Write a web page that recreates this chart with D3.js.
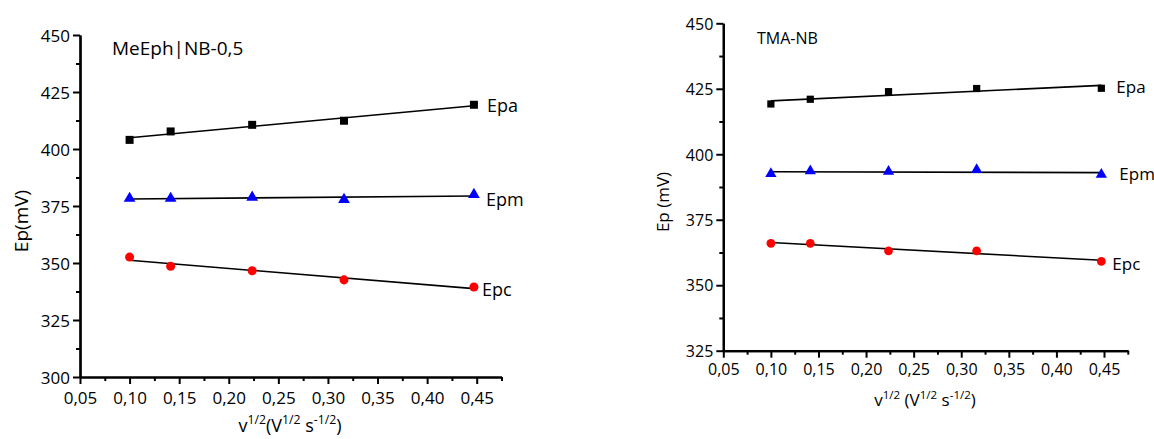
<!DOCTYPE html>
<html><head><meta charset="utf-8">
<script src="https://cdn.jsdelivr.net/npm/d3@7"></script>
<style>
body{margin:0;background:#fff;}
svg{display:block;font-family:"Open Sans",sans-serif;}
</style></head>
<body><svg id="c" width="1154" height="439"></svg>
<script>
// scan rates v^1/2 (V^1/2 s^-1/2)
const sqrtV = [0.1, 0.1414, 0.2236, 0.3162, 0.4472];
// MeEph|NB-0,5 panel (mV)
const leftEpa = [404.0, 407.7, 410.6, 412.4, 419.4];
const leftEpm = [378.3, 378.3, 378.8, 377.8, 380.0];
const leftEpc = [352.6, 348.6, 346.6, 342.6, 339.5];
// TMA-NB panel (mV)
const rightEpa = [419.2, 421.0, 423.9, 425.1, 425.2];
const rightEpm = [392.6, 393.6, 393.4, 394.1, 392.3];
const rightEpc = [366.0, 366.0, 363.1, 363.1, 359.1];
// tick labels
const xTicks = [0.05, 0.10, 0.15, 0.20, 0.25, 0.30, 0.35, 0.40, 0.45];
const leftYTicks = [300, 325, 350, 375, 400, 425, 450];
const rightYTicks = [325, 350, 375, 400, 425, 450];
const seriesNames = ["Epa", "Epm", "Epc"];

const svg = d3.select("#c");
const fmt = d => d3.format(".2f")(d).replace(".", ",");

function fit(xs, ys){
  const mx = d3.mean(xs), my = d3.mean(ys);
  let sxy = 0, sxx = 0;
  xs.forEach((x,i)=>{ sxy += (x-mx)*(ys[i]-my); sxx += (x-mx)*(x-mx); });
  const b = sxy/sxx, a = my - b*mx;
  return x => a + b*x;
}

function panel(cfg){
  const g = svg.append("g");
  const x = d3.scaleLinear().domain([0.05, 0.475]).range(cfg.xr);
  const y = d3.scaleLinear().domain(cfg.yd).range(cfg.yr);
  const minorX = d3.range(0.075, 0.48, 0.05);
  const minorY = d3.range(cfg.yd[0] + 12.5, cfg.yd[1], 25);

  const xa = g.append("g").attr("transform", `translate(0,${cfg.yr[0]})`)
    .call(d3.axisBottom(x).tickValues(xTicks).tickFormat(fmt).tickSize(7).tickSizeOuter(0));
  const xm = g.append("g").attr("transform", `translate(0,${cfg.yr[0]})`)
    .call(d3.axisBottom(x).tickValues(minorX).tickFormat("").tickSize(4).tickSizeOuter(0));
  const ya = g.append("g").attr("transform", `translate(${cfg.xr[0]},0)`)
    .call(d3.axisLeft(y).tickValues(cfg.yTicks).tickFormat(d3.format("d")).tickSize(7).tickSizeOuter(0));
  const ym = g.append("g").attr("transform", `translate(${cfg.xr[0]},0)`)
    .call(d3.axisLeft(y).tickValues(minorY).tickFormat("").tickSize(4).tickSizeOuter(0));
  [xa, xm, ya, ym].forEach(a => {
    a.select(".domain").attr("stroke", "#000").attr("stroke-width", 2.2);
    a.selectAll(".tick line").attr("stroke", "#000").attr("stroke-width", 2);
    a.selectAll(".tick text").attr("fill", "#000").style("font-size", cfg.tickFs + "px")
      .style("font-family", "'Open Sans',sans-serif");
  });
  xa.selectAll(".tick text").attr("y", cfg.xLabDy).attr("dy", 0);
  ya.selectAll(".tick text").attr("x", -10).attr("dy", "0.36em");

  const data = [cfg.epa, cfg.epm, cfg.epc];
  const colors = ["#000", "#0000ff", "#ff0000"];
  const shapes = [d3.symbolSquare, d3.symbolTriangle, d3.symbolCircle];
  const sizes = cfg.symSizes;
  data.forEach((vals, si) => {
    const f = fit(sqrtV, vals);
    const x0 = d3.min(sqrtV), x1 = d3.max(sqrtV);
    g.append("line").attr("x1", x(x0)).attr("y1", y(f(x0)))
      .attr("x2", x(x1)).attr("y2", y(f(x1)))
      .attr("stroke", "#000").attr("stroke-width", 1.6);
    g.selectAll(null).data(vals).enter().append("path")
      .attr("d", d3.symbol().type(shapes[si]).size(sizes[si]))
      .attr("transform", (d,i) => `translate(${x(sqrtV[i])},${y(d)})`)
      .attr("fill", colors[si]);
    const lp = cfg.labelPos[si];
    g.append("text").attr("x", x(x1) + lp[0]).attr("y", y(vals[vals.length-1]) + lp[1])
      .style("font-size", cfg.lblFs + "px").attr("fill", "#000").text(seriesNames[si]);
  });

  g.append("text").attr("x", cfg.title[0]).attr("y", cfg.title[1])
    .style("font-size", cfg.title[3] + "px").attr("fill", "#000").text(cfg.title[2]);

  g.append("text").attr("transform", `translate(${cfg.yLab[0]},${cfg.yLab[1]}) rotate(-90)`)
    .attr("text-anchor", "middle").style("font-size", cfg.yLab[3] + "px").attr("fill", "#000")
    .text(cfg.yLab[2]);

  const t = g.append("text").attr("x", cfg.xLab[0]).attr("y", cfg.xLab[1])
    .attr("text-anchor", "middle").style("font-size", cfg.xLab[2] + "px").attr("fill", "#000");
  const sup = cfg.xLab[2] * 0.68;
  t.append("tspan").text("v");
  t.append("tspan").attr("dy", -cfg.xLab[2]*0.42).style("font-size", sup + "px").text("1/2");
  t.append("tspan").attr("dy", cfg.xLab[2]*0.42).text(cfg.xLab[3] + "(V");
  t.append("tspan").attr("dy", -cfg.xLab[2]*0.42).style("font-size", sup + "px").text("1/2");
  t.append("tspan").attr("dy", cfg.xLab[2]*0.42).text(" s");
  t.append("tspan").attr("dy", -cfg.xLab[2]*0.42).style("font-size", sup + "px").text("-1/2");
  t.append("tspan").attr("dy", cfg.xLab[2]*0.42).text(")");
}

panel({
  xr: [80, 501.5], yd: [300, 450], yr: [377, 35], yTicks: leftYTicks,
  epa: leftEpa, epm: leftEpm, epc: leftEpc,
  tickFs: 17, xLabDy: 27, lblFs: 18, symSizes: [64, 60, 64],
  labelPos: [[13, 7], [12, 11], [8, 9]],
  title: [112, 55, "MeEph|NB-0,5", 19],
  yLab: [28, 221, "Ep(mV)", 19],
  xLab: [290, 432, 18, ""]
});
panel({
  xr: [723.3, 1127.8], yd: [325, 450], yr: [350.7, 23.3], yTicks: rightYTicks,
  epa: rightEpa, epm: rightEpm, epc: rightEpc,
  tickFs: 16, xLabDy: 24, lblFs: 17, symSizes: [52, 55, 60],
  labelPos: [[15, 5], [18, 6], [11, 9]],
  title: [757, 44, "TMA-NB", 16],
  yLab: [669, 202, "Ep (mV)", 17],
  xLab: [925, 406, 17, " "]
});
</script></body></html>
